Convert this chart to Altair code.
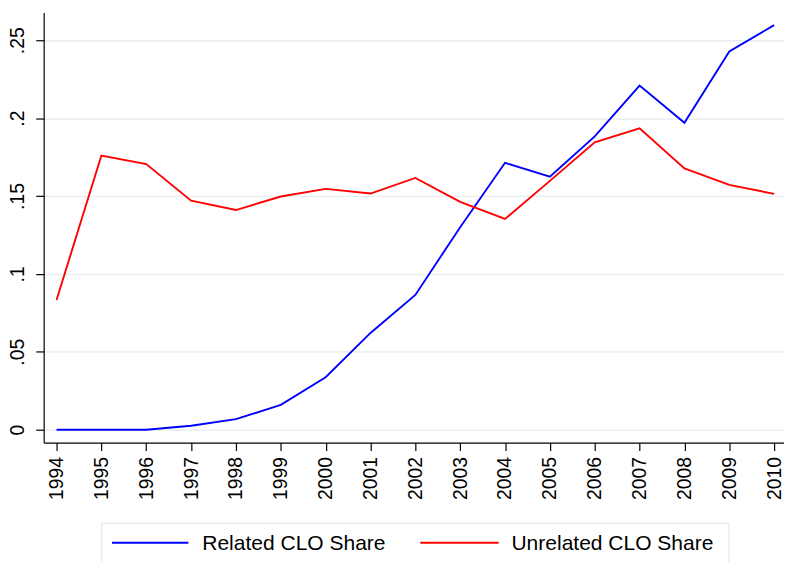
import altair as alt
import pandas as pd

years = list(range(1994, 2011))
related = [0.0, 0.0, 0.0, 0.0025, 0.0068, 0.0159, 0.0337, 0.0621, 0.0865, 0.130,
           0.1713, 0.1624, 0.1883, 0.2209, 0.1970, 0.2428, 0.2597]
unrelated = [0.0833, 0.1760, 0.1705, 0.1470, 0.1410, 0.1497, 0.1546, 0.1516, 0.1616,
             0.1463, 0.1353, 0.1597, 0.1845, 0.1934, 0.1677, 0.1571, 0.1514]
series_names = ["Related CLO Share", "Unrelated CLO Share"]
series_colors = ["#0000ff", "#ff0000"]
y_ticks = [0, 0.05, 0.1, 0.15, 0.2, 0.25]

rows = []
for y, r, u in zip(years, related, unrelated):
    rows.append({"year": y, "share": r, "series": series_names[0]})
    rows.append({"year": y, "share": u, "series": series_names[1]})
df = pd.DataFrame(rows)

FONT = "Liberation Sans"
W, H = 747, 434
color_scale = alt.Scale(domain=series_names, range=series_colors)

lines = alt.Chart(df).mark_line(strokeWidth=1.9, clip=True).encode(
    x=alt.X("year:Q",
            scale=alt.Scale(domain=[1993.713, 2010.22], nice=False, zero=False),
            axis=alt.Axis(values=years, format="d", title=None, grid=False,
                          labelAngle=270, labelAlign="right", labelBaseline="middle",
                          labelFontSize=19.5, labelPadding=6, tickSize=8,
                          labelFont=FONT, labelColor="#000000", tickColor="#000000",
                          domainColor="#000000", labelOverlap=False, labelFlush=False)),
    y=alt.Y("share:Q",
            scale=alt.Scale(domain=[-0.0083, 0.2678], nice=False, zero=False),
            axis=alt.Axis(values=y_ticks, title=None, grid=True, gridColor="#e6eef1",
                          gridWidth=1.3,
                          labelExpr="datum.value == 0 ? '0' : replace(format(datum.value, '.2~f'), '0.', '.')",
                          labelAngle=270, labelAlign="center", labelBaseline="bottom",
                          labelFontSize=19.5, labelPadding=8, tickSize=8,
                          labelFont=FONT, labelColor="#000000", tickColor="#000000",
                          domainColor="#000000", labelOverlap=False, labelFlush=False,
                          minExtent=35, maxExtent=35)),
    color=alt.Color("series:N", scale=color_scale, legend=None),
)

# legend (layout positions in pixels relative to the plot area)
legend_df = pd.DataFrame({
    "series": series_names,
    "sx0": [69, 380],
    "sx1": [146, 459],
    "tx": [160, 472],
})

legend_box = alt.Chart(pd.DataFrame({"k": [0]})).mark_rect(
    fill="#ffffff", stroke="#e3eaec", strokeWidth=1.2
).encode(x=alt.value(58.5), x2=alt.value(691.5), y=alt.value(515.5), y2=alt.value(560))

legend_sym = alt.Chart(legend_df).mark_rule(strokeWidth=1.9).encode(
    x=alt.X("sx0:Q", scale=None), x2="sx1:Q", y=alt.value(535),
    color=alt.Color("series:N", scale=color_scale, legend=None),
)

legend_txt = alt.Chart(legend_df).mark_text(
    align="left", baseline="middle", font=FONT, fontSize=21.2, color="#000000"
).encode(x=alt.X("tx:Q", scale=None), y=alt.value(536), text="series:N")

chart = alt.layer(lines, legend_box, legend_sym, legend_txt).properties(
    width=W, height=H,
    padding={"top": 2, "left": 0, "right": 0, "bottom": 0},
).configure_view(stroke=None).configure_axis(domainWidth=1.2, tickWidth=1.2)

chart.save("out.html", embed_options={"renderer": "svg", "actions": False})
